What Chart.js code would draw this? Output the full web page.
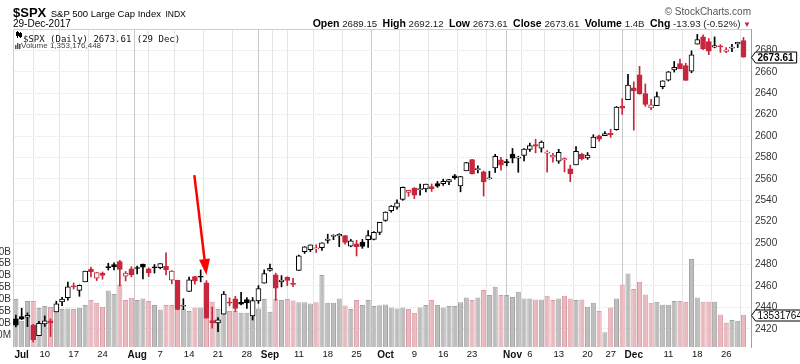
<!DOCTYPE html>
<html>
<head>
<meta charset="utf-8">
<script src="https://cdn.jsdelivr.net/npm/chart.js@4.4.1/dist/chart.umd.min.js"></script>
<style>
  html, body { margin: 0; padding: 0; background: #fff; }
  body { width: 800px; height: 364px; position: relative; overflow: hidden; font-family: "Liberation Sans", Arial, sans-serif; color: #000; }
  #box { position: absolute; left: -14px; top: 0; width: 814px; height: 364px; }
  .t { position: absolute; white-space: nowrap; line-height: 1; }
  .r { right: 49px; }
  #ohlc b { font-size: 10.5px; color: #000; }
</style>
</head>
<body>
<div id="box"><canvas id="chart" width="814" height="364"></canvas></div>
<div class="t" style="left:13px;top:4px"><b style="font-size:13px">$SPX</b> <span style="font-size:9.5px">S&amp;P 500 Large Cap Index</span> <span style="font-size:8.5px">INDX</span></div>
<div class="t" id="dt" style="left:13px;top:19px;font-size:10px"></div>
<div class="t r" style="top:7px;font-size:10px;color:#555">© StockCharts.com</div>
<div class="t r" id="ohlc" style="top:18px;font-size:9.7px;color:#222"></div>
<div class="t" id="lg1" style="left:23px;top:34px;font:9px 'DejaVu Sans Mono',monospace;color:#111"></div>
<div class="t" id="lg2" style="left:21px;top:42px;font-size:8px;color:#444"></div>

<script>
const YEAR = 2017;
const dates = [
  '06-30',
  '07-03','07-05','07-06','07-07','07-10','07-11','07-12','07-13','07-14','07-17','07-18','07-19','07-20','07-21','07-24','07-25','07-26','07-27','07-28','07-31',
  '08-01','08-02','08-03','08-04','08-07','08-08','08-09','08-10','08-11','08-14','08-15','08-16','08-17','08-18','08-21','08-22','08-23','08-24','08-25','08-28','08-29','08-30','08-31',
  '09-01','09-05','09-06','09-07','09-08','09-11','09-12','09-13','09-14','09-15','09-18','09-19','09-20','09-21','09-22','09-25','09-26','09-27','09-28','09-29',
  '10-02','10-03','10-04','10-05','10-06','10-09','10-10','10-11','10-12','10-13','10-16','10-17','10-18','10-19','10-20','10-23','10-24','10-25','10-26','10-27','10-30','10-31',
  '11-01','11-02','11-03','11-06','11-07','11-08','11-09','11-10','11-13','11-14','11-15','11-16','11-17','11-20','11-21','11-22','11-24','11-27','11-28','11-29','11-30',
  '12-01','12-04','12-05','12-06','12-07','12-08','12-11','12-12','12-13','12-14','12-15','12-18','12-19','12-20','12-21','12-22','12-26','12-27','12-28','12-29'
];
const opens = [
  2429.20,
  2431.39,2430.78,2423.44,2413.52,2424.51,2427.35,2435.75,2444.99,2449.16,2459.50,2455.88,2463.85,2475.56,2467.40,2472.04,2477.88,2479.97,2482.76,2469.12,2475.94,
  2477.10,2480.38,2476.03,2476.88,2477.14,2478.35,2465.35,2465.38,2441.04,2454.96,2468.66,2468.63,2462.95,2427.64,2425.50,2433.75,2444.88,2447.91,2444.72,2447.35,2431.94,2446.06,2462.65,
  2474.42,2470.35,2463.83,2468.06,2462.25,2474.52,2491.94,2493.89,2494.56,2495.67,2502.51,2506.29,2506.84,2507.16,2497.26,2499.39,2501.04,2503.30,2503.41,2509.96,
  2521.20,2530.34,2533.48,2540.86,2547.44,2551.39,2549.99,2550.62,2552.88,2555.66,2555.57,2557.17,2562.87,2553.39,2567.56,2578.08,2568.66,2566.52,2560.08,2570.26,2577.75,2575.99,
  2583.21,2579.46,2581.93,2587.47,2592.11,2588.71,2584.00,2580.18,2576.53,2577.75,2569.45,2572.95,2582.94,2579.49,2589.17,2600.31,2600.42,2602.66,2605.94,2627.82,2633.93,
  2645.10,2657.19,2639.78,2626.24,2628.38,2646.21,2652.19,2661.73,2667.59,2665.87,2660.63,2685.92,2692.71,2688.18,2683.02,2684.22,2679.09,2682.10,2686.10,2689.15
];
const highs = [
  2432.71,
  2439.17,2434.90,2424.28,2426.92,2432.00,2429.30,2445.76,2449.32,2463.54,2462.82,2460.92,2473.83,2477.62,2472.54,2473.10,2481.24,2481.69,2484.04,2473.53,2477.96,
  2478.51,2480.38,2476.88,2480.00,2480.91,2490.87,2474.41,2465.38,2448.09,2468.22,2468.90,2474.93,2465.02,2440.27,2430.58,2454.77,2448.91,2450.39,2453.96,2449.12,2449.19,2460.31,2475.01,
  2480.38,2471.97,2469.64,2468.62,2467.11,2488.95,2496.77,2498.37,2498.43,2500.23,2508.32,2507.84,2508.85,2507.16,2503.47,2502.54,2503.51,2511.75,2510.81,2519.44,
  2529.23,2535.13,2540.53,2552.51,2549.41,2551.82,2555.23,2555.24,2555.33,2557.65,2559.71,2559.71,2564.11,2562.36,2575.44,2578.29,2572.18,2567.40,2567.07,2582.98,2580.03,2578.29,
  2588.40,2581.11,2588.42,2593.38,2597.02,2595.47,2586.50,2583.81,2587.66,2579.66,2572.84,2590.09,2583.96,2584.64,2601.19,2600.94,2604.21,2606.41,2627.69,2634.89,2657.74,
  2650.62,2665.19,2648.72,2634.41,2640.99,2651.65,2660.33,2669.72,2671.88,2668.09,2679.63,2694.97,2694.44,2691.01,2692.64,2685.35,2682.74,2685.64,2687.66,2692.12
];
const lows = [
  2421.65,
  2428.69,2422.05,2407.70,2413.52,2422.27,2412.79,2435.75,2441.69,2446.69,2457.16,2450.34,2463.85,2468.43,2465.06,2466.32,2474.91,2474.94,2459.93,2464.66,2468.53,
  2471.14,2466.48,2468.85,2472.08,2475.94,2470.32,2462.08,2437.75,2437.85,2454.96,2461.61,2463.86,2430.01,2420.69,2417.35,2433.67,2441.42,2436.19,2442.22,2439.03,2428.20,2443.77,2462.65,
  2473.85,2446.55,2459.20,2460.29,2459.40,2474.52,2490.37,2492.14,2491.35,2493.16,2499.92,2503.19,2496.67,2499.00,2496.54,2488.03,2495.12,2495.91,2502.93,2507.99,
  2520.40,2528.85,2531.80,2540.02,2543.79,2541.60,2544.86,2547.95,2548.31,2552.09,2553.86,2554.69,2559.67,2547.92,2567.56,2564.33,2565.58,2544.00,2559.80,2565.94,2568.25,2572.15,
  2574.92,2566.17,2576.77,2585.66,2584.35,2585.02,2566.33,2575.57,2574.48,2566.56,2557.45,2572.95,2577.62,2578.24,2589.17,2595.23,2600.42,2598.87,2605.44,2620.32,2633.93,
  2605.52,2639.03,2627.73,2624.75,2628.38,2644.10,2651.47,2659.78,2662.85,2652.01,2659.14,2685.92,2680.74,2676.11,2682.40,2678.13,2677.96,2678.91,2682.69,2673.61
];
const closes = [
  2423.41,
  2429.01,2432.54,2409.75,2425.18,2427.43,2425.53,2443.25,2447.83,2459.27,2459.14,2460.61,2473.83,2473.45,2472.54,2469.91,2477.13,2477.83,2475.42,2472.10,2470.30,
  2476.35,2477.57,2472.16,2476.83,2480.91,2474.92,2474.02,2438.21,2441.32,2465.84,2464.61,2468.11,2430.01,2425.55,2428.37,2452.51,2444.04,2438.97,2443.05,2444.24,2446.30,2457.59,2471.65,
  2476.55,2457.85,2465.54,2465.10,2461.43,2488.11,2496.48,2498.37,2495.62,2500.23,2503.87,2506.65,2508.24,2500.60,2502.22,2496.66,2496.84,2507.04,2510.06,2519.36,
  2529.12,2534.58,2537.74,2552.07,2549.33,2544.73,2550.64,2555.24,2550.93,2553.17,2557.64,2559.36,2561.26,2562.10,2575.21,2564.98,2569.13,2557.15,2560.40,2581.07,2572.83,2575.26,
  2579.36,2579.85,2587.84,2591.13,2590.64,2594.38,2584.62,2582.30,2584.84,2578.87,2564.62,2585.64,2578.85,2582.14,2599.03,2597.08,2602.42,2601.42,2627.04,2626.07,2647.58,
  2642.22,2639.44,2629.57,2629.27,2636.98,2651.50,2659.99,2664.11,2662.85,2652.01,2675.81,2690.16,2681.47,2679.25,2684.57,2683.34,2680.50,2682.62,2687.54,2673.61
];
// volume in billions of shares
const volumes = [
  2.02,
  1.10,1.93,1.93,1.64,1.72,1.68,1.62,1.60,1.62,1.60,1.65,1.76,1.97,1.86,1.69,2.37,2.23,2.63,1.97,2.07,
  1.97,2.04,1.93,1.76,1.58,1.76,1.76,1.73,1.62,1.51,1.66,1.66,1.85,1.90,1.60,1.56,1.51,1.51,1.44,1.44,1.52,1.62,2.02,
  1.48,2.02,1.97,2.02,1.95,1.88,1.88,1.83,1.88,3.02,1.86,1.86,2.04,1.74,1.60,1.97,1.76,1.97,1.72,1.75,
  1.79,1.66,1.62,1.66,1.60,1.44,1.66,1.76,1.97,1.76,1.66,1.72,1.72,1.88,2.08,1.97,2.08,2.39,2.18,2.53,2.18,2.18,
  2.10,2.32,2.04,2.04,2.00,2.00,2.15,1.97,2.04,2.15,2.04,1.97,2.00,1.69,1.86,1.51,0.62,1.66,2.04,2.63,3.09,
  2.44,2.74,2.21,1.86,1.90,1.77,1.77,1.93,1.93,1.90,3.70,2.08,1.90,1.90,1.90,1.37,1.02,1.13,1.10,1.353176448
];
const prevClose0 = 2419.70;   // 29-Jun close, colours the first bar
const priceTicks = [2420, 2440, 2460, 2480, 2500, 2520, 2540, 2560, 2580, 2600, 2620, 2640, 2660, 2680];
const volTicks = [0.5, 1, 1.5, 2, 2.5, 3, 3.5, 4];
const arrowFrom = [30.9, 2563.5];
const arrowTo = [33.0, 2470.3];

const MONTHS = ['Jan','Feb','Mar','Apr','May','Jun','Jul','Aug','Sep','Oct','Nov','Dec'];
const RED = '#c9253c';
const FONT = '"Liberation Sans", Arial, sans-serif';
const N = closes.length;
const days = dates.map(s => { const [m, d] = s.split('-').map(Number); return new Date(YEAR, m - 1, d); });

// grid lines on first trading day of each week and month
const monthStarts = [], weekStarts = [];
days.forEach((d, i) => {
  if (i === 0) return;
  if (d.getMonth() !== days[i - 1].getMonth()) monthStarts.push(i);
  if (d.getDay() < days[i - 1].getDay()) weekStarts.push(i);
});
const gridIdx = [...new Set([...weekStarts, ...monthStarts])].sort((a, b) => a - b);
const tickText = {};
gridIdx.forEach(i => {
  if (monthStarts.includes(i)) tickText[i] = MONTHS[days[i].getMonth()];
  else if (!monthStarts.some(m => Math.abs(m - i) <= 2)) tickText[i] = String(days[i].getDate());
});

const up = closes.map((c, i) => c >= (i ? closes[i - 1] : prevClose0));
const lineCol = up.map(u => u ? '#000' : RED);
const bodyCol = closes.map((c, i) => c >= opens[i] ? '#fff' : lineCol[i]);

// header texts
const last = N - 1;
const chg = closes[last] - closes[last - 1];
const pct = chg / closes[last - 1] * 100;
const dl = days[last];
document.getElementById('dt').textContent = dl.getDate() + '-' + MONTHS[dl.getMonth()] + '-' + YEAR;
document.getElementById('ohlc').innerHTML =
  '<b>Open</b> ' + opens[last].toFixed(2) +
  '&nbsp; <b>High</b> ' + highs[last].toFixed(2) +
  '&nbsp; <b>Low</b> ' + lows[last].toFixed(2) +
  '&nbsp; <b>Close</b> ' + closes[last].toFixed(2) +
  '&nbsp; <b>Volume</b> ' + volumes[last].toFixed(1) + 'B' +
  '&nbsp; <b>Chg</b> ' + chg.toFixed(2) + ' (' + pct.toFixed(2) + '%) ' +
  '<span style="color:' + RED + ';font-size:8px">&#9660;</span>';
document.getElementById('lg1').textContent =
  '$SPX (Daily) ' + closes[last].toFixed(2) + ' (' + dl.getDate() + ' ' + MONTHS[dl.getMonth()] + ')';
document.getElementById('lg2').textContent =
  'Volume ' + Math.round(volumes[last] * 1e9).toLocaleString('en-US');

function tag(ctx, x, y, text, bold) {
  ctx.font = (bold ? 'bold ' : '') + '10px ' + FONT;
  const w = ctx.measureText(text).width + 5;
  ctx.beginPath();
  ctx.moveTo(x + 0.5, y);
  ctx.lineTo(x + 4.5, y - 5.5);
  ctx.lineTo(x + 4.5 + w, y - 5.5);
  ctx.lineTo(x + 4.5 + w, y + 5.5);
  ctx.lineTo(x + 4.5, y + 5.5);
  ctx.closePath();
  ctx.fillStyle = '#fff';
  ctx.fill();
  ctx.strokeStyle = '#000';
  ctx.lineWidth = 1;
  ctx.stroke();
  ctx.fillStyle = '#000';
  ctx.textBaseline = 'middle';
  ctx.textAlign = 'left';
  ctx.fillText(text, x + 6.5, y + 0.5);
}

const extras = {
  id: 'extras',
  beforeDatasetsDraw(chart) {
    const { ctx, chartArea: a } = chart;
    ctx.save();
    ctx.strokeStyle = '#cfcfcf';
    ctx.lineWidth = 1;
    ctx.beginPath();
    ctx.moveTo(a.left + 0.5, a.bottom);
    ctx.lineTo(a.left + 0.5, a.top + 0.5);
    ctx.lineTo(a.right, a.top + 0.5);
    ctx.stroke();
    ctx.restore();
  },
  afterDatasetsDraw(chart) {
    const { ctx, chartArea: a, scales } = chart;
    const { x, y, yv } = scales;
    ctx.save();

    // red arrow
    const x0 = x.getPixelForValue(arrowFrom[0]), y0 = y.getPixelForValue(arrowFrom[1]);
    const x1 = x.getPixelForValue(arrowTo[0]), y1 = y.getPixelForValue(arrowTo[1]);
    const ang = Math.atan2(y1 - y0, x1 - x0);
    const hl = 16, hw = 5.5;
    const bx = x1 - hl * Math.cos(ang), by = y1 - hl * Math.sin(ang);
    ctx.strokeStyle = '#f00';
    ctx.fillStyle = '#f00';
    ctx.lineWidth = 2.5;
    ctx.beginPath();
    ctx.moveTo(x0, y0);
    ctx.lineTo(bx, by);
    ctx.stroke();
    ctx.beginPath();
    ctx.moveTo(x1, y1);
    ctx.lineTo(bx + hw * Math.sin(ang), by - hw * Math.cos(ang));
    ctx.lineTo(bx - hw * Math.sin(ang), by + hw * Math.cos(ang));
    ctx.closePath();
    ctx.fill();

    // legend icons
    const L = a.left, T = a.top;
    ctx.fillStyle = '#000';
    ctx.fillRect(L + 4, T + 2, 1, 7);
    ctx.fillRect(L + 3, T + 3, 3, 4);
    ctx.fillRect(L + 7, T + 3, 1, 6);
    ctx.strokeStyle = '#000';
    ctx.lineWidth = 1;
    ctx.strokeRect(L + 6.5, T + 4.5, 2, 3);
    ctx.fillStyle = '#555';
    ctx.fillRect(L + 2, T + 16, 1.5, 4);
    ctx.fillRect(L + 4, T + 14, 1.5, 6);
    ctx.fillRect(L + 6, T + 15, 1.5, 5);

    // value tags on the right axis
    tag(ctx, a.right, Math.round(y.getPixelForValue(closes[last])) + 0.5, closes[last].toFixed(2), true);
    tag(ctx, a.right, Math.round(yv.getPixelForValue(volumes[last])) + 0.5,
        String(Math.round(volumes[last] * 1e9)), false);
    ctx.restore();
  }
};

Chart.defaults.font.family = FONT;

new Chart(document.getElementById('chart'), {
  type: 'bar',
  data: {
    datasets: [
      {
        label: 'body',
        data: closes.map((c, i) => ({ x: i, y: [Math.min(opens[i], c), Math.max(opens[i], c)] })),
        yAxisID: 'y',
        backgroundColor: bodyCol,
        borderColor: lineCol,
        borderWidth: 1,
        borderSkipped: false,
        barThickness: 5,
        minBarLength: 1,
        grouped: false,
        order: 1
      },
      {
        label: 'wick',
        data: highs.map((h, i) => ({ x: i, y: [lows[i], h] })),
        yAxisID: 'y',
        backgroundColor: lineCol,
        barThickness: 1,
        grouped: false,
        order: 2
      },
      {
        label: 'volume',
        data: volumes.map((v, i) => ({ x: i, y: v })),
        yAxisID: 'yv',
        backgroundColor: up.map(u => u ? '#bdbdbd' : '#eab9bf'),
        borderColor: up.map(u => u ? '#a3a3a3' : '#d99aa2'),
        borderWidth: 1,
        barPercentage: 1,
        categoryPercentage: 0.88,
        grouped: false,
        order: 3
      }
    ]
  },
  options: {
    responsive: false,
    devicePixelRatio: 1,
    animation: false,
    layout: { padding: { top: 29, left: 0, right: 0, bottom: 0 } },
    plugins: { legend: { display: false }, tooltip: { enabled: false } },
    scales: {
      x: {
        type: 'linear',
        min: -0.5,
        max: 127.3,
        offset: false,
        afterBuildTicks: s => { s.ticks = gridIdx.map(v => ({ value: v })); },
        afterFit: s => { s.height = 17; },
        grid: {
          color: c => monthStarts.includes(c.tick && c.tick.value) ? '#c9c9c9' : '#e6e6e6',
          drawTicks: false
        },
        border: { display: false },
        ticks: {
          autoSkip: false,
          maxRotation: 0,
          padding: 2,
          color: '#111',
          font: c => {
            const m = c.tick && monthStarts.includes(c.tick.value);
            return { family: FONT, size: m ? 10 : 9.5, weight: m ? 'bold' : 'normal' };
          },
          callback: v => tickText[v] ?? ''
        }
      },
      y: {
        position: 'right',
        min: 2403,
        max: 2700,
        afterBuildTicks: s => { s.ticks = priceTicks.map(v => ({ value: v })); },
        afterFit: s => { s.width = 49; },
        grid: { color: '#e3e3e3', drawTicks: false },
        border: { display: true, color: '#a0a0a0', dash: [1, 1] },
        ticks: { padding: 4, color: '#333', font: { size: 10 }, callback: v => String(v) }
      },
      yv: {
        position: 'left',
        min: 0,
        max: 13.36,
        afterBuildTicks: s => { s.ticks = volTicks.map(v => ({ value: v })); },
        afterFit: s => { s.width = 27; },
        grid: { display: false, drawTicks: false },
        border: { display: false },
        ticks: {
          padding: 2,
          color: '#333',
          font: { size: 10 },
          callback: v => v < 1 ? Math.round(v * 1000) + 'M' : v.toFixed(1) + 'B'
        }
      }
    }
  },
  plugins: [extras]
});
</script>
</body>
</html>
